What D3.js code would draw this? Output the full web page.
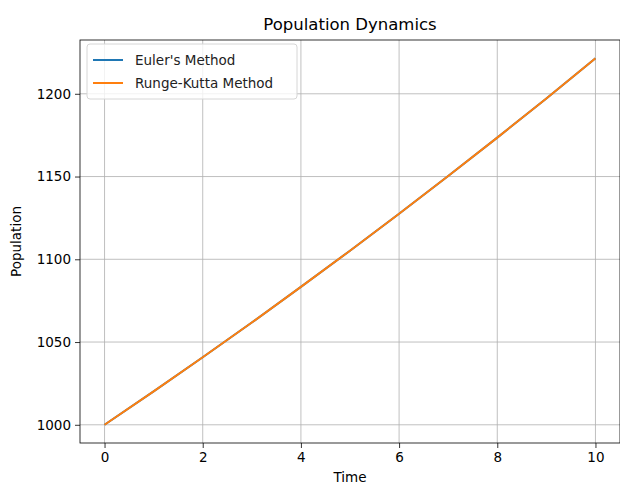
<!DOCTYPE html>
<html>
<head>
<meta charset="utf-8">
<script src="https://cdn.jsdelivr.net/npm/d3@7"></script>
<style>
  body { margin: 0; background: #fff; }
  svg { font-family: "DejaVu Sans", sans-serif; }
</style>
</head>
<body>
<svg width="620" height="486"></svg>
<script>
// values (the two methods overlap, no blue shows)
const time = [0, 1, 2, 3, 4, 5, 6, 7, 8, 9, 10];
const euler = [1000, 1020.2, 1040.8, 1061.8, 1083.3, 1105.2, 1127.5, 1150.3, 1173.5, 1197.2, 1221.4];
const rungeKutta = [1000, 1020.2, 1040.8, 1061.8, 1083.3, 1105.2, 1127.5, 1150.3, 1173.5, 1197.2, 1221.4];
const xTicks = [0, 2, 4, 6, 8, 10];
const yTicks = [1000, 1050, 1100, 1150, 1200];
const seriesNames = ["Euler's Method", "Runge-Kutta Method"];
const colors = ["#1f77b4", "#ff7f0e"];

const mLeft = 80, mRight = 620, mTop = 40, mBottom = 443;
const width = mRight - mLeft;
const height = mBottom - mTop;

const svg = d3.select('svg');

const xScale = d3.scaleLinear().domain([-0.5, 10.5]).range([0, width]);
const yScale = d3.scaleLinear().domain([989, 1232.5]).range([height, 0]);

const chart = svg.append('g')
    .attr('transform', `translate(${mLeft}, ${mTop})`);

// grid
chart.append('g')
    .selectAll('line')
    .data(xTicks)
    .enter()
    .append('line')
    .attr('x1', d => xScale(d)).attr('x2', d => xScale(d))
    .attr('y1', 0).attr('y2', height)
    .attr('stroke', '#b0b0b0').attr('stroke-width', 0.8);

chart.append('g')
    .selectAll('line')
    .data(yTicks)
    .enter()
    .append('line')
    .attr('y1', d => yScale(d)).attr('y2', d => yScale(d))
    .attr('x1', 0).attr('x2', width)
    .attr('stroke', '#b0b0b0').attr('stroke-width', 0.8);

// axes
const xAxis = chart.append('g')
    .attr('transform', `translate(0, ${height})`)
    .call(d3.axisBottom(xScale).tickValues(xTicks).tickFormat(d3.format('d')).tickSize(5).tickPadding(4));

const yAxis = chart.append('g')
    .call(d3.axisLeft(yScale).tickValues(yTicks).tickFormat(d3.format('d')).tickSize(5).tickPadding(4));

[xAxis, yAxis].forEach(a => {
  a.select('.domain').remove();
  a.selectAll('.tick line').attr('stroke', '#000').attr('stroke-width', 0.8);
  a.selectAll('.tick text')
    .attr('fill', '#000')
    .style('font-size', '13.5px')
    .style('font-family', '"DejaVu Sans", sans-serif');
});

// lines
const line = d3.line()
    .x((d, i) => xScale(time[i]))
    .y(d => yScale(d))
    .curve(d3.curveMonotoneX);

[euler, rungeKutta].forEach((s, i) => {
  chart.append('path')
      .datum(s)
      .attr('fill', 'none')
      .attr('stroke', colors[i])
      .attr('stroke-width', 2)
      .attr('d', line);
});

// frame
chart.append('rect')
    .attr('width', width).attr('height', height)
    .attr('fill', 'none')
    .attr('stroke', '#000').attr('stroke-width', 0.8);

// title and labels
svg.append('text')
    .attr('x', mLeft + width / 2)
    .attr('y', 30)
    .attr('text-anchor', 'middle')
    .style('font-size', '16.5px')
    .text('Population Dynamics');

svg.append('text')
    .attr('x', mLeft + width / 2)
    .attr('y', 482)
    .attr('text-anchor', 'middle')
    .style('font-size', '13.5px')
    .text('Time');

svg.append('text')
    .attr('transform', `translate(21, ${mTop + height / 2}) rotate(-90)`)
    .attr('text-anchor', 'middle')
    .style('font-size', '13.5px')
    .text('Population');

// legend
const legend = svg.append('g')
    .attr('transform', 'translate(87, 44)');

legend.append('rect')
    .attr('width', 210).attr('height', 55)
    .attr('rx', 3)
    .attr('fill', 'rgba(255,255,255,0.8)')
    .attr('stroke', '#d6d6d6');

seriesNames.forEach((name, i) => {
  const y = 16 + i * 23;
  legend.append('line')
      .attr('x1', 6).attr('x2', 36)
      .attr('y1', y).attr('y2', y)
      .attr('stroke', colors[i]).attr('stroke-width', 2);
  legend.append('text')
      .attr('x', 48)
      .attr('y', y + 5)
      .style('font-size', '13.5px')
      .attr('fill', '#222')
      .text(name);
});
</script>
</body>
</html>
